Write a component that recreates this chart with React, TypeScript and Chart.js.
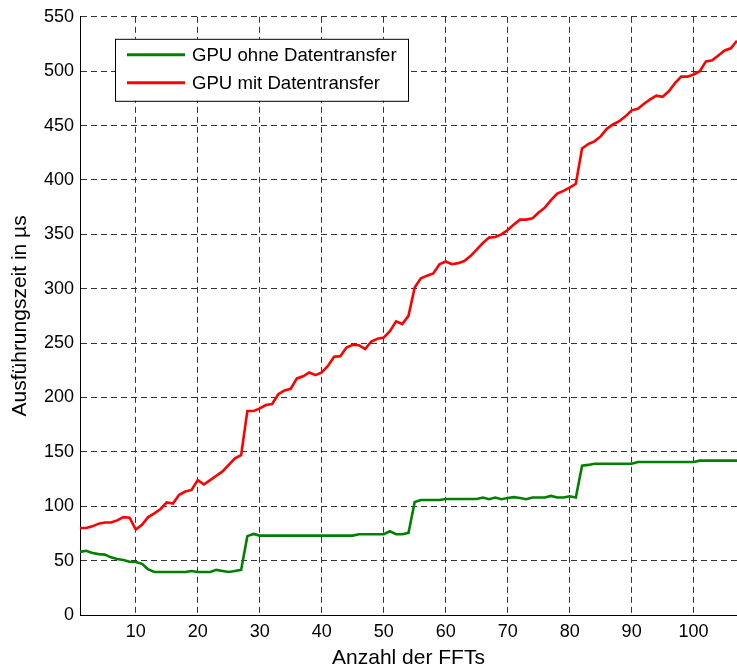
import React, { useEffect, useRef } from "react";
import { Chart, registerables } from "chart.js";

Chart.register(...registerables);

const fftCounts = [
  1, 2, 3, 4, 5, 6, 7, 8, 9, 10, 11, 12, 13, 14, 15, 16, 17, 18, 19, 20,
  21, 22, 23, 24, 25, 26, 27, 28, 29, 30, 31, 32, 33, 34, 35, 36, 37, 38, 39, 40,
  41, 42, 43, 44, 45, 46, 47, 48, 49, 50, 51, 52, 53, 54, 55, 56, 57, 58, 59, 60,
  61, 62, 63, 64, 65, 66, 67, 68, 69, 70, 71, 72, 73, 74, 75, 76, 77, 78, 79, 80,
  81, 82, 83, 84, 85, 86, 87, 88, 89, 90, 91, 92, 93, 94, 95, 96, 97, 98, 99, 100,
  101, 102, 103, 104, 105, 106, 107,
];

const gpuOhne = [
  58, 59, 57, 56, 55.5, 53, 51.5, 50.5, 49, 48.8,
  47, 42, 39.5, 39.5, 39.5, 39.5, 39.5, 39.5, 40.5, 39.5,
  39.5, 39.5, 41.5, 40.5, 39.5, 40.5, 41.5, 72.5, 74.5, 73,
  73, 73, 73, 73, 73, 73, 73, 73, 73, 73,
  73, 73, 73, 73, 73, 74.3, 74.3, 74.3, 74.3, 74.3,
  77, 74.3, 74.3, 75.5, 104, 105.8, 105.8, 105.8, 105.8, 106.7,
  106.7, 106.7, 106.7, 106.7, 106.7, 108, 106.5, 108, 106.5, 107.5,
  108.4, 107.5, 106.5, 108, 108, 108, 109.5, 108, 108, 109.2,
  108, 137.3, 138, 139.1, 139.1, 139.1, 139.1, 139.1, 139.1, 139.1,
  140.7, 140.7, 140.7, 140.7, 140.7, 140.7, 140.7, 140.7, 140.7, 140.7,
  141.9, 141.9, 141.9, 141.9, 141.9, 141.9, 141.9,
];

const gpuMit = [
  80, 80, 81.5, 84, 85, 85, 87, 90, 89.5, 78.5,
  83, 90, 93.5, 97.5, 103.5, 102.5, 110.5, 113.5, 115, 124,
  120, 124, 128, 132, 138, 144, 147, 187.5, 187.5, 190,
  193, 194, 203, 206.5, 208, 217.5, 219.5, 223, 220.5, 223,
  229, 237.5, 238, 246, 248.5, 248, 244.5, 251.5, 254, 255,
  261, 270, 267.5, 275, 301, 309.5, 312, 314, 322.5, 325,
  322.5, 323.5, 325.5, 330, 336, 342, 347, 347.5, 350, 354,
  359, 363.5, 363.5, 364.7, 370, 374.5, 381.5, 387.5, 390, 393,
  396.5, 429, 433, 435.5, 440, 447, 451, 454, 458.5, 464,
  465.5, 470, 474, 477.5, 476.5, 481.5, 489, 495, 495, 497,
  500, 509, 510, 514.5, 519, 521, 528,
];

const xTicks = [10, 20, 30, 40, 50, 60, 70, 80, 90, 100];
const yTicks = [0, 50, 100, 150, 200, 250, 300, 350, 400, 450, 500, 550];

const seriesLabels = ["GPU ohne Datentransfer", "GPU mit Datentransfer"];
const seriesColors = ["#008000", "#ff0000"];

const FONT = "'Liberation Sans', Arial, Helvetica, sans-serif";

const insideLegend = {
  id: "insideLegend",
  afterDraw(chart: any) {
    const { ctx, chartArea } = chart;
    const left = chartArea.left + 35;
    const top = chartArea.top + 22;
    const w = 293;
    const h = 62;
    ctx.save();
    ctx.fillStyle = "#ffffff";
    ctx.fillRect(left, top, w, h);
    ctx.strokeStyle = "#000000";
    ctx.lineWidth = 1;
    ctx.setLineDash([]);
    ctx.strokeRect(left + 0.5, top + 0.5, w, h);
    ctx.font = `18.6px ${FONT}`;
    ctx.textBaseline = "middle";
    ctx.textAlign = "left";
    chart.data.datasets.forEach((ds: any, i: number) => {
      const cy = top + 16 + i * 28;
      ctx.strokeStyle = ds.borderColor;
      ctx.lineWidth = 3;
      ctx.beginPath();
      ctx.moveTo(left + 12, cy);
      ctx.lineTo(left + 70, cy);
      ctx.stroke();
      ctx.fillStyle = "#000000";
      ctx.fillText(ds.label, left + 77, cy + 1);
    });
    ctx.restore();
  },
};

export default function App() {
  const canvasRef = useRef<HTMLCanvasElement | null>(null);

  useEffect(() => {
    const canvas = canvasRef.current;
    if (!canvas) return;
    const chart = new Chart(canvas, {
      type: "line",
      data: {
        datasets: [gpuOhne, gpuMit].map((vals, i) => ({
          label: seriesLabels[i],
          data: fftCounts.map((x, j) => ({ x, y: vals[j] })),
          borderColor: seriesColors[i],
          backgroundColor: seriesColors[i],
          borderWidth: 2.6,
          pointRadius: 0,
          tension: 0,
          fill: false,
        })),
      },
      options: {
        animation: false,
        responsive: false,
        devicePixelRatio: 1,
        layout: { padding: { left: 0, top: 15, right: 0, bottom: 0 } },
        plugins: {
          legend: { display: false },
          tooltip: { enabled: false },
        },
        scales: {
          x: {
            type: "linear",
            min: 1,
            max: 107,
            afterBuildTicks: (scale: any) => {
              scale.ticks = xTicks.map((v) => ({ value: v }));
            },
            afterFit: (scale: any) => {
              scale.height = 57;
            },
            grid: {
              color: "#333333",
              lineWidth: 1,
              drawTicks: false,
            },
            border: { display: true, color: "#000000", width: 1, dash: [6, 4] },
            ticks: {
              color: "#000000",
              font: { family: FONT, size: 18 },
              padding: 6,
              maxRotation: 0,
              autoSkip: false,
            },
            title: {
              display: true,
              text: "Anzahl der FFTs",
              color: "#000000",
              font: { family: FONT, size: 21 },
              padding: { top: 0, bottom: 1 },
            },
          },
          y: {
            type: "linear",
            min: 0,
            max: 550,
            afterBuildTicks: (scale: any) => {
              scale.ticks = yTicks.map((v) => ({ value: v }));
            },
            afterFit: (scale: any) => {
              scale.width = 80;
            },
            grid: {
              color: "#333333",
              lineWidth: 1,
              drawTicks: false,
            },
            border: { display: true, color: "#000000", width: 1, dash: [6, 4] },
            ticks: {
              color: "#000000",
              font: { family: FONT, size: 18 },
              padding: 6,
              autoSkip: false,
            },
            title: {
              display: true,
              text: "Ausführungszeit in µs",
              color: "#000000",
              font: { family: FONT, size: 21 },
              padding: { top: 8, bottom: 0 },
            },
          },
        },
      },
      plugins: [insideLegend],
    } as any);
    return () => chart.destroy();
  }, []);

  return (
    <div style={{ position: "absolute", left: 0, top: 0, width: 737, height: 672, background: "#fff" }}>
      <canvas ref={canvasRef} width={737} height={672} style={{ display: "block" }} />
    </div>
  );
}
